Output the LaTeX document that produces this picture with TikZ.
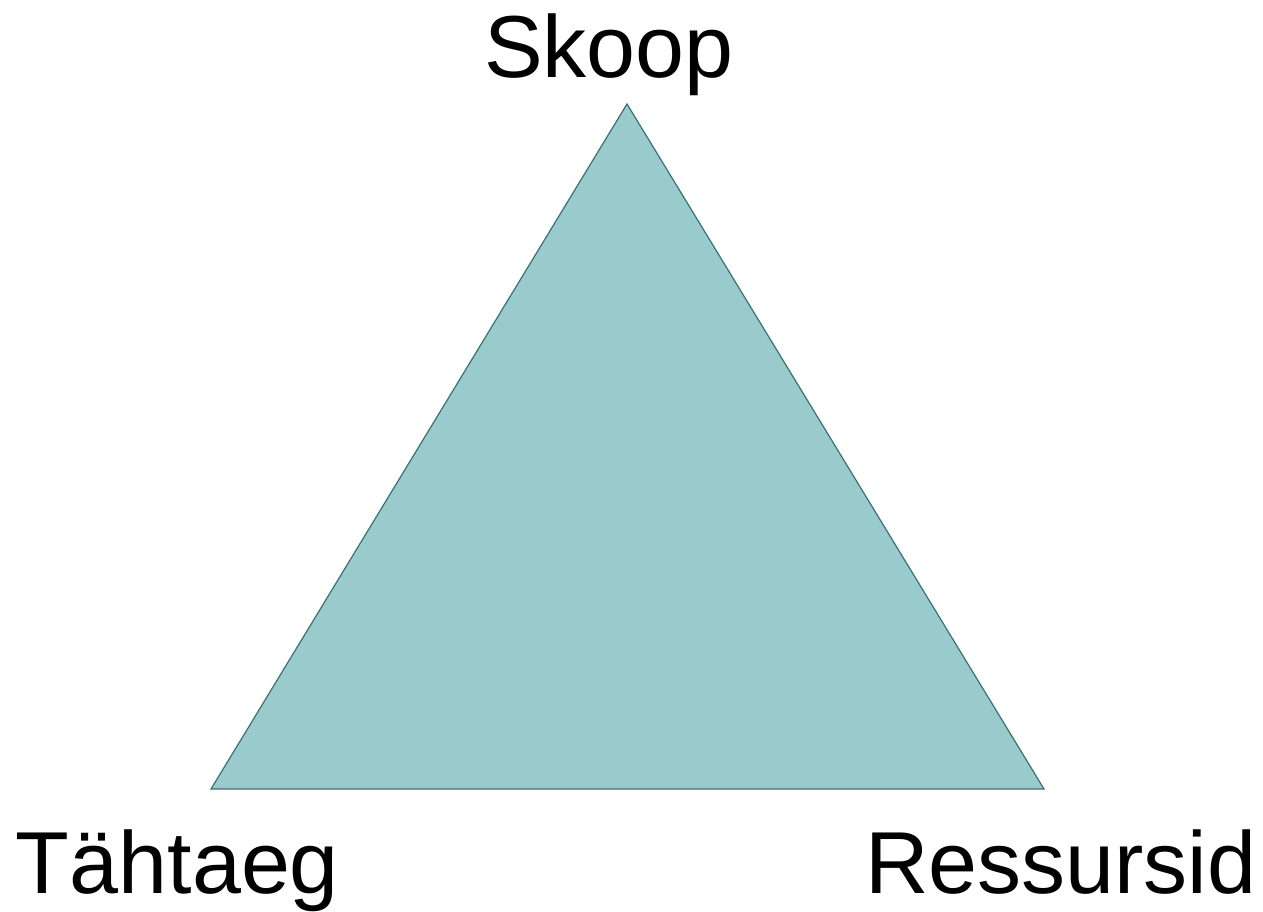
\documentclass[tikz,border=0pt]{standalone}
\usepackage{fontspec}
\setmainfont{Liberation Sans}
\definecolor{trifill}{HTML}{9ACBCC}
\definecolor{triedge}{HTML}{3D6F70}
\begin{document}
\begin{tikzpicture}[x=1pt,y=-1pt,
  corner/.style={inner sep=0pt,outer sep=0pt,anchor=base west,
    font=\fontsize{88}{100}\selectfont}]
  \useasboundingbox (0,0) rectangle (1263,912);
  % triangle corners
  \coordinate (top) at (627,104);
  \coordinate (left) at (211,789);
  \coordinate (right) at (1044,789);
  \filldraw[fill=trifill,draw=triedge,line width=1.2pt,line join=miter]
    (top) -- (left) -- (right) -- cycle;
  % corner labels
  \node[corner] (skoop) at (484,78) {Skoop};
  \node[corner] (deadline) at (16,893) {Tähtaeg};
  \node[corner] (resources) at (865,893) {Ressursid};
\end{tikzpicture}
\end{document}
